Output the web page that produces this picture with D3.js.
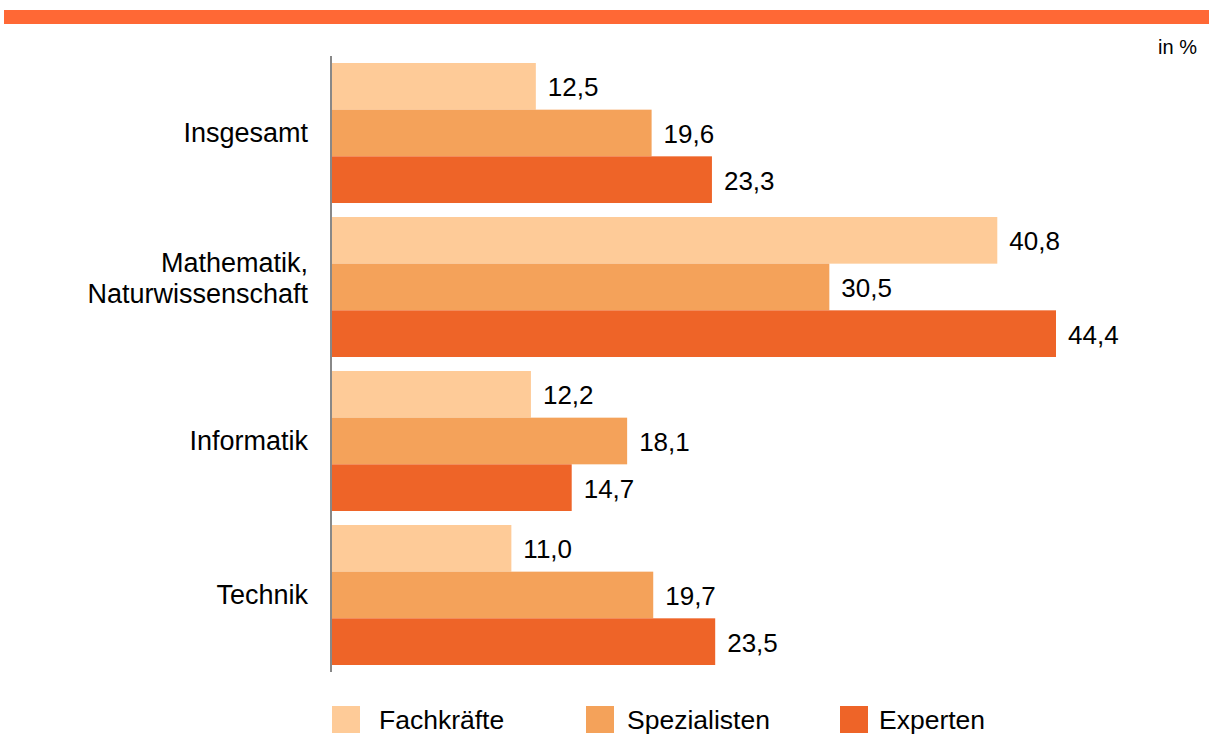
<!DOCTYPE html>
<html>
<head>
<meta charset="utf-8">
<script src="https://cdn.jsdelivr.net/npm/d3@7"></script>
<style>
  body { margin: 0; background: #fff; }
  svg { display: block; font-family: "Liberation Sans", Arial, sans-serif; }
</style>
</head>
<body>
<div id="chart"></div>
<script>
// data
var categories = [["Insgesamt"], ["Mathematik,", "Naturwissenschaft"], ["Informatik"], ["Technik"]]
var series = ["Fachkräfte", "Spezialisten", "Experten"]
var fachkraefte = [12.5, 40.8, 12.2, 11.0]
var spezialisten = [19.6, 30.5, 18.1, 19.7]
var experten = [23.3, 44.4, 14.7, 23.5]
var colors = ["#FECB98", "#F4A25A", "#EE6428"]

var values = [fachkraefte, spezialisten, experten]

var width = 1209, height = 736

var svg = d3.select("#chart").append("svg")
  .attr("width", width)
  .attr("height", height)

// top band
svg.append("rect")
  .attr("x", 4).attr("y", 10)
  .attr("width", width - 4).attr("height", 14)
  .style("fill", "#FF6835")

svg.append("text")
  .attr("x", 1197).attr("y", 54)
  .attr("text-anchor", "end")
  .style("font-size", "20px")
  .text("in %")

var y = d3.scaleBand()
  .domain(d3.range(categories.length))
  .range([56, 672])
  .paddingInner(0.0909)
  .paddingOuter(0.0455)

var yInner = d3.scaleBand()
  .domain(d3.range(series.length))
  .range([0, y.bandwidth()])

var x = d3.scaleLinear()
  .domain([0, 44.4])
  .range([332, 1056])

var rows = []
categories.forEach(function (c, i) {
  series.forEach(function (s, j) {
    rows.push({ cat: i, ser: j, v: values[j][i] })
  })
})

var g = svg.append("g")

g.selectAll("rect.bars").data(rows)
  .enter().append("rect")
  .attr("class", "bars")
  .attr("x", x(0))
  .attr("y", function (d) { return y(d.cat) + yInner(d.ser) })
  .attr("width", function (d) { return x(d.v) - x(0) })
  .attr("height", yInner.bandwidth())
  .style("fill", function (d) { return colors[d.ser] })

g.selectAll("text.val").data(rows)
  .enter().append("text")
  .attr("class", "val")
  .attr("x", function (d) { return x(d.v) + 12 })
  .attr("y", function (d) { return y(d.cat) + yInner(d.ser) + yInner.bandwidth() / 2 + 10 })
  .style("font-size", "26px")
  .style("fill", "#000")
  .text(function (d) { return d3.format(".1f")(d.v).replace(".", ",") })

// category labels
var labels = svg.append("g").selectAll("text").data(categories)
  .enter().append("text")
  .attr("text-anchor", "end")
  .style("font-size", "27px")
  .attr("y", function (d, i) { return y(i) + y.bandwidth() / 2 + 9 - (d.length - 1) * 24 })

labels.selectAll("tspan").data(function (d) { return d })
  .enter().append("tspan")
  .attr("x", 308)
  .attr("dy", function (d, i) { return i === 0 ? 0 : 31 })
  .text(function (d) { return d })

// axis line
svg.append("line")
  .attr("x1", x(0) - 1).attr("x2", x(0) - 1)
  .attr("y1", y.range()[0]).attr("y2", y.range()[1])
  .style("stroke", "#888")
  .style("stroke-width", 2)

// legend
var legendX = [332, 586, 840]
var legendTextOffset = [47, 41, 39]
var legend = svg.append("g").selectAll("g").data(series)
  .enter().append("g")
  .attr("transform", function (d, i) { return "translate(" + legendX[i] + ",706)" })

legend.append("rect")
  .attr("width", 28).attr("height", 27)
  .style("fill", function (d, i) { return colors[i] })

legend.append("text")
  .attr("x", function (d, i) { return legendTextOffset[i] }).attr("y", 23)
  .style("font-size", "26.5px")
  .text(function (d) { return d })
</script>
</body>
</html>
